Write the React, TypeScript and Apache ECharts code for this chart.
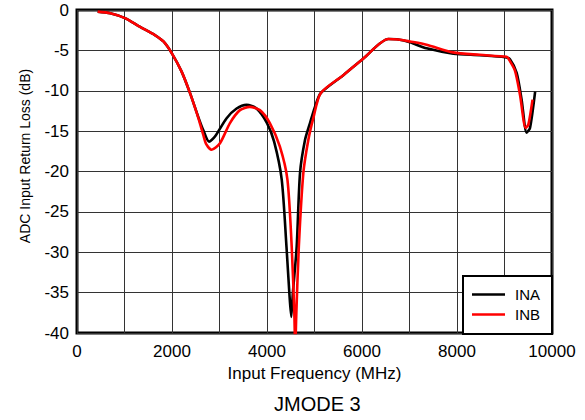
import React, { useEffect, useRef } from "react";
import * as echarts from "echarts";

const freqA = [435, 700, 1010, 1330, 1640, 1820, 2000, 2200, 2380, 2550, 2660, 2780, 2900, 3150, 3360, 3570, 3780, 4000, 4150, 4310, 4410, 4470, 4510, 4545, 4625, 4695, 4800, 4905, 5010, 5130, 5600, 6030, 6555, 6765, 7010, 7360, 7920, 8480, 9010, 9115, 9256, 9360, 9467, 9537, 9645];
const lossA = [-0.2, -0.4, -1.0, -2.1, -3.1, -3.9, -5.4, -7.6, -10.3, -13.2, -14.9, -16.3, -15.7, -13.4, -12.2, -11.75, -12.2, -14.0, -16.3, -21.0, -29.3, -35.0, -38.0, -35.0, -29.3, -20.2, -16.1, -14.0, -12.0, -10.3, -8.1, -6.0, -3.6, -3.65, -4.0, -4.75, -5.4, -5.6, -5.85, -6.1, -7.8, -11.1, -15.2, -14.6, -10.1];

const freqB = [435, 700, 1010, 1330, 1640, 1820, 2000, 2200, 2380, 2550, 2660, 2720, 2835, 3010, 3220, 3430, 3640, 3850, 4060, 4270, 4430, 4520, 4575, 4595, 4615, 4670, 4765, 4870, 4975, 5130, 5600, 6030, 6555, 6765, 7010, 7360, 7920, 8480, 9046, 9080, 9220, 9326, 9446, 9502, 9590];
const lossB = [-0.2, -0.4, -1.0, -2.1, -3.1, -3.9, -5.4, -7.6, -10.3, -13.3, -15.5, -16.6, -17.3, -16.5, -14.0, -12.4, -12.0, -12.4, -14.0, -16.9, -21.0, -29.3, -37.5, -42.0, -38.0, -29.3, -20.2, -16.1, -13.4, -10.3, -8.1, -6.0, -3.6, -3.65, -3.9, -4.3, -5.25, -5.55, -5.8, -6.0, -7.5, -10.5, -14.6, -14.2, -11.1];

const seriesNames = ["INA", "INB"];
const seriesColors = ["#000000", "#ff0000"];

const xTitle = "Input Frequency (MHz)";
const yTitle = "ADC Input Return Loss (dB)";
const chartTitle = "JMODE 3";

const FONT = "'Liberation Sans', Arial, Helvetica, sans-serif";

export default function App() {
  const ref = useRef<HTMLDivElement>(null);
  useEffect(() => {
    document.body.style.margin = "0";
    if (!ref.current) return;
    const chart = echarts.init(ref.current, null, { renderer: "svg" });
    const dataA = freqA.map((f, i) => [f, lossA[i]]);
    const dataB = freqB.map((f, i) => [f, lossB[i]]);
    chart.setOption({
      animation: false,
      textStyle: { fontFamily: FONT, color: "#000" },
      title: {
        text: chartTitle,
        left: 274,
        top: 394,
        padding: 0,
        textStyle: { fontFamily: FONT, fontSize: 20, fontWeight: "normal", color: "#000" },
      },
      grid: {
        left: 77,
        right: 33,
        top: 10,
        bottom: 87,
        show: true,
        borderColor: "#000",
        borderWidth: 3,
        containLabel: false,
      },
      legend: {
        data: seriesNames.map((n) => ({ name: n, icon: "rect" })),
        orient: "vertical",
        left: 463,
        top: 276,
        padding: [11, 12, 12, 9],
        borderColor: "#000",
        borderWidth: 2,
        backgroundColor: "#fff",
        itemWidth: 33,
        itemHeight: 2.5,
        itemGap: 5,
        textStyle: { fontFamily: FONT, fontSize: 15, color: "#000", padding: [0, 0, 0, 5], lineHeight: 14 },
      },
      xAxis: {
        type: "value",
        min: 0,
        max: 10000,
        interval: 1000,
        name: xTitle,
        nameLocation: "middle",
        nameGap: 30,
        nameTextStyle: { fontFamily: FONT, fontSize: 17, color: "#000" },
        axisLine: { show: false },
        axisTick: { show: false },
        axisLabel: {
          fontFamily: FONT,
          fontSize: 17,
          color: "#000",
          margin: 10,
          formatter: (v: number) => (v % 2000 === 0 ? String(v) : ""),
        },
        splitLine: { show: true, lineStyle: { color: "#333", width: 1 } },
      },
      yAxis: {
        type: "value",
        min: -40,
        max: 0,
        interval: 5,
        name: yTitle,
        nameLocation: "middle",
        nameGap: 45,
        nameTextStyle: { fontFamily: FONT, fontSize: 14, color: "#000", padding: [0, 0, 0, 31] },
        axisLine: { show: false },
        axisTick: { show: false },
        axisLabel: { fontFamily: FONT, fontSize: 17, color: "#000", margin: 8 },
        splitLine: { show: true, lineStyle: { color: "#333", width: 1 } },
      },
      series: [
        {
          name: seriesNames[0],
          type: "line",
          data: dataA,
          showSymbol: false,
          symbol: "none",
          smooth: 0.25,
          clip: true,
          color: seriesColors[0],
          lineStyle: { color: seriesColors[0], width: 2.6 },
        },
        {
          name: seriesNames[1],
          type: "line",
          data: dataB,
          showSymbol: false,
          symbol: "none",
          smooth: 0.25,
          clip: true,
          color: seriesColors[1],
          lineStyle: { color: seriesColors[1], width: 2.6 },
        },
      ],
    });
    return () => chart.dispose();
  }, []);
  return <div ref={ref} style={{ width: 585, height: 420 }} />;
}
